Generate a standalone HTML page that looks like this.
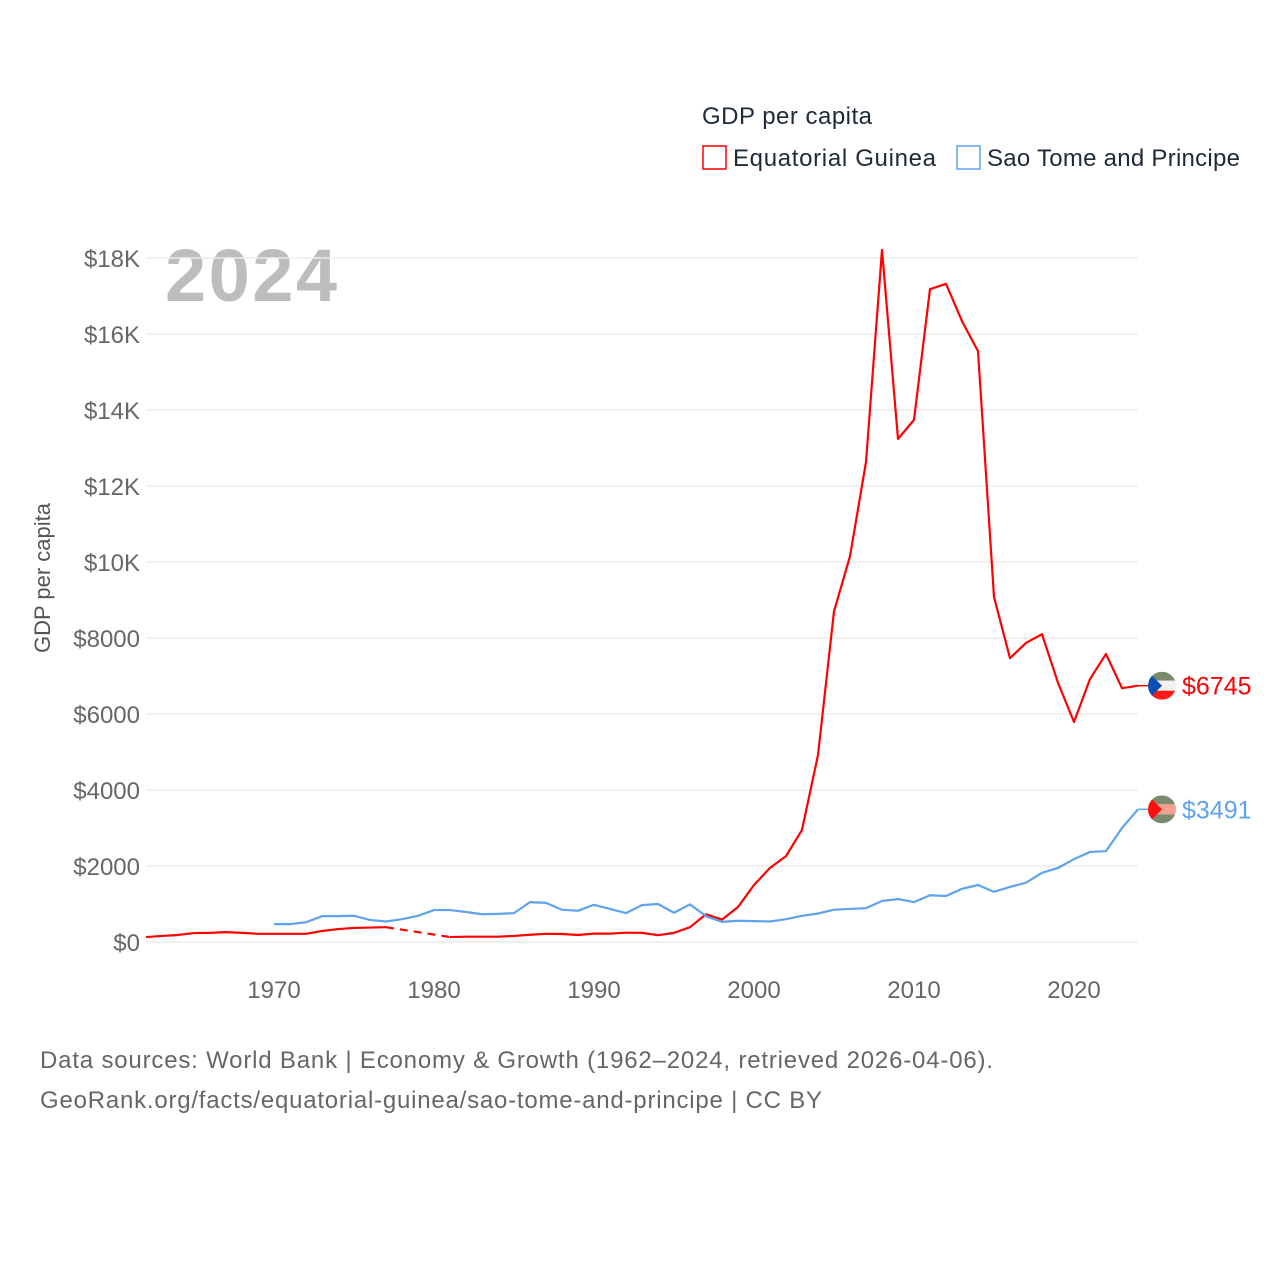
<!DOCTYPE html>
<html><head><meta charset="utf-8"><style>
body{margin:0;background:#fff;font-family:"Liberation Sans",sans-serif}
svg text{font-family:"Liberation Sans",sans-serif}
</style></head><body>
<svg id="chart" width="1280" height="1280" viewBox="0 0 1280 1280">
<text x="702" y="124" font-size="24" fill="#1e2a3a" textLength="170">GDP per capita</text>
<g><rect x="703" y="146" width="23" height="23" fill="none" stroke="#ff0000" stroke-width="1.5"/><text x="733" y="166" font-size="24" fill="#1e2a3a" textLength="203">Equatorial Guinea</text></g>
<g><rect x="957" y="146" width="23" height="23" fill="none" stroke="#5ea3ec" stroke-width="1.5"/><text x="987" y="166" font-size="24" fill="#1e2a3a" textLength="253">Sao Tome and Principe</text></g>
<text x="165" y="301" font-size="74" font-weight="bold" fill="#bdbdbd" textLength="172">2024</text>
<text transform="translate(50,578) rotate(-90)" text-anchor="middle" font-size="22" fill="#555">GDP per capita</text>
<g id="grid"></g><g id="series"></g>
<text x="40" y="1068" font-size="24" fill="#666" textLength="953">Data sources: World Bank | Economy &amp; Growth (1962–2024, retrieved 2026-04-06).</text>
<text x="40" y="1108" font-size="24" fill="#666" textLength="782">GeoRank.org/facts/equatorial-guinea/sao-tome-and-principe | CC BY</text>
</svg>
<script>
const yTicks=[0,2000,4000,6000,8000,10000,12000,14000,16000,18000];
const yTickLabels=["$0","$2000","$4000","$6000","$8000","$10K","$12K","$14K","$16K","$18K"];
const xTicks=[1970,1980,1990,2000,2010,2020];
const eqgStart=1962;
const eqgValues=[130,160,185,235,240,260,240,215,215,215,215,290,340,370,380,390,null,null,null,130,140,140,140,160,190,215,210,185,220,220,245,240,180,240,390,730,590,920,1500,1950,2260,2950,4920,8700,10150,12630,18210,13240,13740,17180,17320,16340,15550,9080,7470,7870,8100,6820,5790,6920,7580,6680,6745];
const stpStart=1970;
const stpValues=[470,470,520,680,680,690,580,540,600,690,840,840,790,730,740,760,1050,1030,850,820,980,870,760,970,1000,770,990,680,530,560,550,540,600,690,750,850,870,890,1080,1130,1050,1230,1210,1400,1500,1320,1450,1560,1820,1950,2180,2370,2390,3000,3491];
const NS="http://www.w3.org/2000/svg";
const xs=y=>146+(y-1962)*16;
const ys=v=>942-v*0.038;
function mk(t,a,p){const e=document.createElementNS(NS,t);for(const k in a)e.setAttribute(k,a[k]);p.appendChild(e);return e;}
const grid=document.getElementById('grid'),ser=document.getElementById('series');
yTicks.forEach((v,i)=>{
 const l=mk('line',{x1:146,x2:1138,y1:ys(v),y2:ys(v),stroke:'#ebebeb','stroke-width':1.5},grid);
 
 
 const t=mk('text',{x:140,y:ys(v)+9,'text-anchor':'end','font-size':24,fill:'#666'},grid);
 t.textContent=yTickLabels[i];
 
 
});
xTicks.forEach(y=>{
 const t=mk('text',{x:xs(y),y:998,'text-anchor':'middle','font-size':24,fill:'#666'},grid);
 t.textContent=y;
 
 
});
function draw(start,vals,color,name){
 let segs=[],cur=[],gaps=[];let last=null;
 vals.forEach((v,i)=>{const yr=start+i;
  if(v==null){if(cur.length){segs.push(cur);last=cur[cur.length-1];cur=[];}}
  else{if(!cur.length&&last){gaps.push([last,[xs(yr),ys(v)]]);last=null;}cur.push([xs(yr),ys(v)]);}
 });
 if(cur.length)segs.push(cur);
 segs.forEach(s=>{const p=mk('polyline',{points:s.map(q=>q.join(',')).join(' '),fill:'none',stroke:color,'stroke-width':2.2,'stroke-linejoin':'round'},ser);
  
  });
 gaps.forEach(g=>{const p=mk('line',{x1:g[0][0],y1:g[0][1],x2:g[1][0],y2:g[1][1],stroke:color,'stroke-width':2.2,'stroke-dasharray':'8,6'},ser);
  
  });
 const lv=vals[vals.length-1],ly=ys(lv);
 mk('line',{x1:1138,y1:ly,x2:1150,y2:ly,stroke:color,'stroke-width':1.5},ser);
 const t=mk('text',{x:1182,y:ly+9,'font-size':25,fill:color},ser);
 t.textContent='$'+lv;
 
 
 return ly;
}
const ey=draw(eqgStart,eqgValues,'#ff0000','equatorial-guinea');
const sy=draw(stpStart,stpValues,'#5ea3ec','sao-tome');
function flag(cy,top,mid,bot,tri,name){
 const g=mk('g',{},ser);
 
 
 const id='c'+name;const cp=mk('clipPath',{id:id},g);mk('circle',{cx:1162,cy:cy,r:14},cp);
 const h=mk('g',{'clip-path':'url(#'+id+')'},g);
 mk('rect',{x:1148,y:cy-14,width:28,height:9,fill:top},h);
 mk('rect',{x:1148,y:cy-5,width:28,height:10,fill:mid},h);
 mk('rect',{x:1148,y:cy+5,width:28,height:9,fill:bot},h);
 mk('polygon',{points:`1148,${cy-14} 1162,${cy} 1148,${cy+14}`,fill:tri},h);
}
flag(ey,'#7b8a6c','#f0f0f0','#ff1a1a','#0a4fb5','eqg-flag');
flag(sy,'#7b8a6c','#f4a090','#7b8a6c','#ff1010','stp-flag');
</script>
</body></html>
